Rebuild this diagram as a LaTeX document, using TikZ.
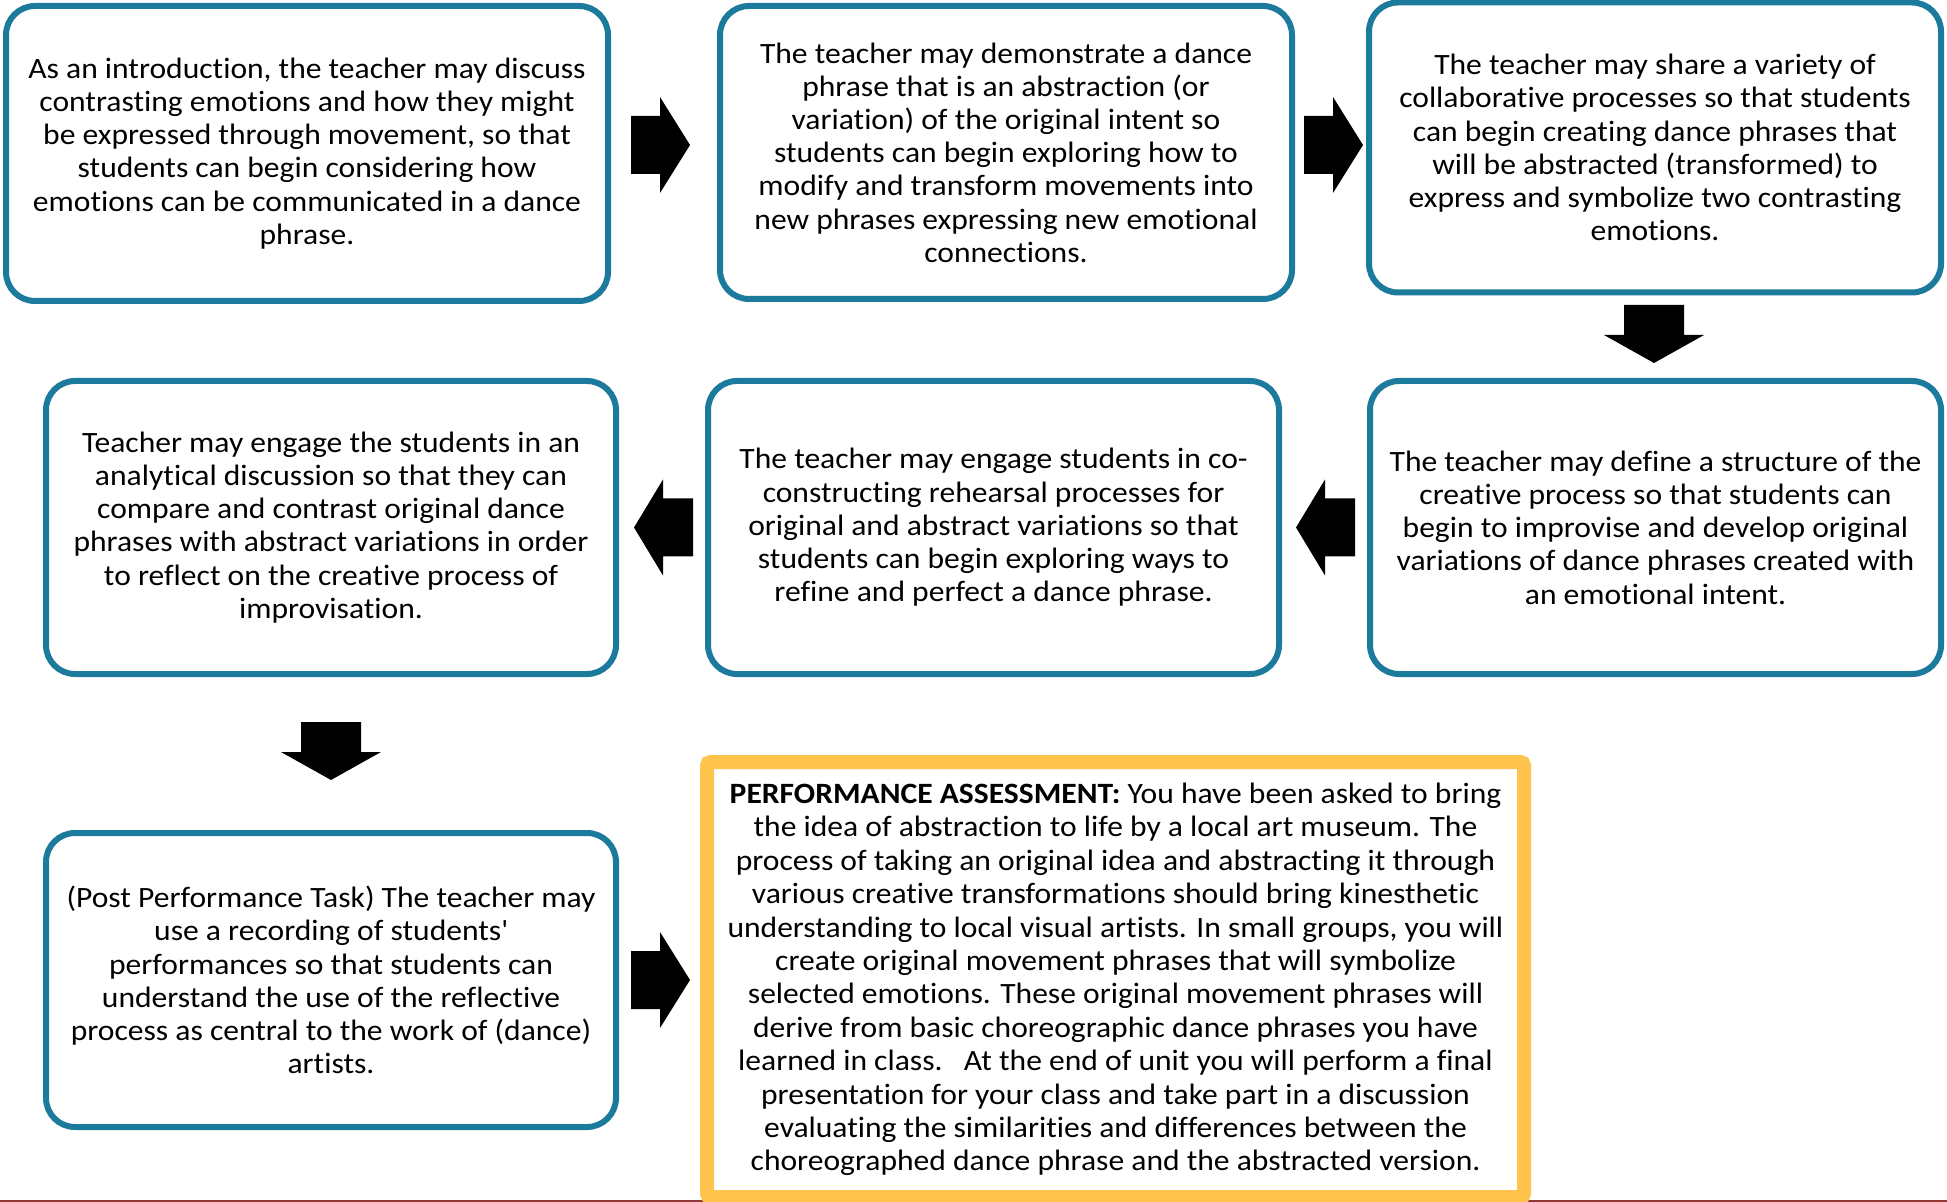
\documentclass[tikz,border=0pt]{standalone}
\usepackage{fontspec}
\setmainfont{Carlito}[FakeStretch=1.07, RawFeature=-liga]
\definecolor{teal1}{HTML}{1C7B9C}
\definecolor{gold1}{HTML}{FEC44E}
\definecolor{redline}{HTML}{943634}
\newcommand\rarr[2]{\fill[arrowfill] (#1,#2-29) -- ++(29,0) -- ++(0,-19) -- (#1+59,#2) -- (#1+29,#2+48) -- ++(0,-19) -- (#1,#2+29) -- cycle;}
\newcommand\larr[2]{\fill[arrowfill] (#1,#2) -- (#1+29,#2-48) -- ++(0,19) -- ++(30,0) -- ++(0,58) -- ++(-30,0) -- ++(0,19) -- cycle;}
\newcommand\darr[2]{\fill[arrowfill] (#1-30,#2) -- (#1+30,#2) -- ++(0,30) -- ++(20,0) -- (#1,#2+58) -- (#1-50,#2+30) -- ++(20,0) -- cycle;}
\begin{document}
\begin{tikzpicture}[x=0.5pt,y=-0.5pt,
  box/.style={draw=teal1, line width=3pt, rounded corners=14.5pt, align=center, inner sep=0pt,
    font=\fontsize{14.75}{16.6}\selectfont},
  assess/.style={draw=gold1, line width=7pt, rounded corners=1.75pt, align=center, inner sep=0pt,
    font=\fontsize{14.75}{16.7}\selectfont},
  arrowfill/.style={fill=black}]
\useasboundingbox (0,0) rectangle (1947,1202);
\draw[redline, line width=0.75pt] (0,1201) -- (1947,1201);
\node[box, minimum width=301pt, minimum height=147.5pt] (b1) at (307,153.5)
 {As an introduction, the teacher may discuss\\contrasting emotions and how they might\\be expressed through movement, so that\\students can begin considering how\\emotions can be communicated in a dance\\phrase.};
\node[box, minimum width=286pt, minimum height=146.5pt] (b2) at (1006,152.5)
 {The teacher may demonstrate a dance\\phrase that is an abstraction (or\\variation) of the original intent so\\students can begin exploring how to\\modify and transform movements into\\new phrases expressing new emotional\\connections.};
\node[box, minimum width=286pt, minimum height=145pt] (b3) at (1655,147.5)
 {The teacher may share a variety of\\collaborative processes so that students\\can begin creating dance phrases that\\will be abstracted (transformed) to\\express and symbolize two contrasting\\emotions.};
\node[box, minimum width=285pt, minimum height=146.5pt] (b4) at (331,527.5)
 {Teacher may engage the students in an\\analytical discussion so that they can\\compare and contrast original dance\\phrases with abstract variations in order\\to reflect on the creative process of\\improvisation.};
\node[box, minimum width=285.5pt, minimum height=146.5pt] (b5) at (993.5,527.5)
 {The teacher may engage students in co-\\constructing rehearsal processes for\\original and abstract variations so that\\students can begin exploring ways to\\refine and perfect a dance phrase.};
\node[box, minimum width=285.5pt, minimum height=146.5pt] (b6) at (1655.5,527.5)
 {The teacher may define a structure of the\\creative process so that students can\\begin to improvise and develop original\\variations of dance phrases created with\\an emotional intent.};
\node[box, minimum width=285pt, minimum height=147pt] (b7) at (331,980)
 {(Post Performance Task) The teacher may\\use a recording of students\textquotesingle\\performances so that students can\\understand the use of the reflective\\process as central to the work of (dance)\\artists.};
\node[assess, minimum width=408.5pt, minimum height=217.5pt] (pa) at (1115.5,979.5)
 {\textbf{PERFORMANCE ASSESSMENT:} You have been asked to bring\\the idea of abstraction to life by a local art museum. The\\process of taking an original idea and abstracting it through\\various creative transformations should bring kinesthetic\\understanding to local visual artists. In small groups, you will\\create original movement phrases that will symbolize\\selected emotions. These original movement phrases will\\derive from basic choreographic dance phrases you have\\learned in class.\ \ \ At the end of unit you will perform a final\\presentation for your class and take part in a discussion\\evaluating the similarities and differences between the\\choreographed dance phrase and the abstracted version.};
\rarr{631}{145}
\rarr{1304}{145}
\darr{1654}{305}
\larr{1296}{527.5}
\larr{634}{527.5}
\darr{331}{722}
\rarr{631}{980}
\end{tikzpicture}
\end{document}
